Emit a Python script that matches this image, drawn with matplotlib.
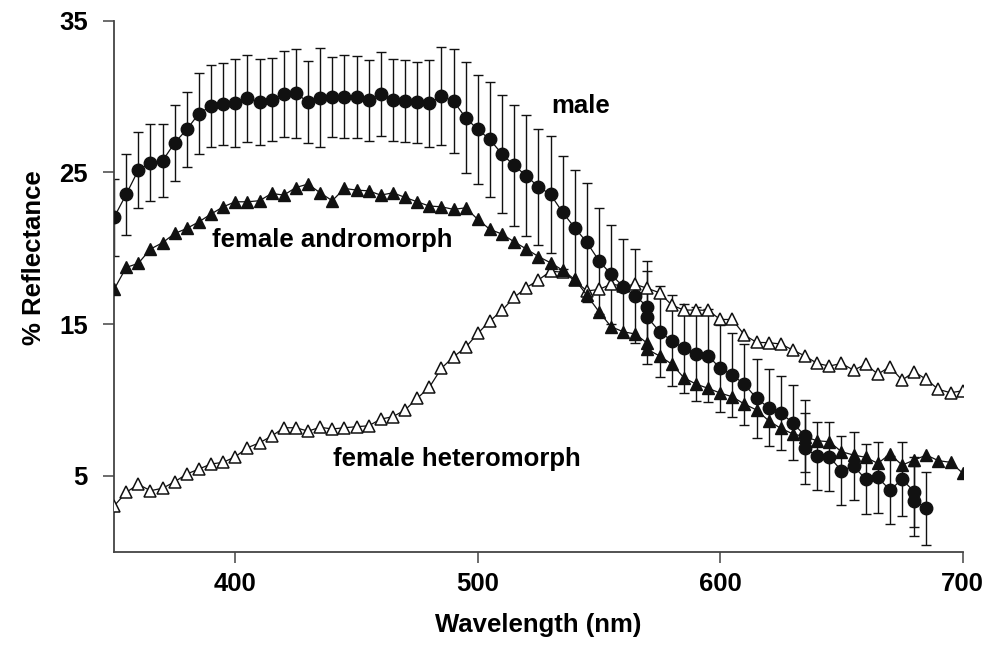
import matplotlib
matplotlib.use("Agg")
import matplotlib.pyplot as plt

plt.rcParams['font.family'] = ['Liberation Sans', 'DejaVu Sans']
plt.rcParams['font.weight'] = 'bold'

# male (mean +/- error), two readings at 570, 635 and 680 nm
male_nm = [350, 355, 360, 365, 370, 375, 380, 385, 390, 395, 400, 405, 410, 415,
           420, 425, 430, 435, 440, 445, 450, 455, 460, 465, 470, 475, 480, 485,
           490, 495, 500, 505, 510, 515, 520, 525, 530, 535, 540, 545, 550, 555,
           560, 565, 570, 570, 575, 580, 585, 590, 595, 600, 605, 610, 615, 620,
           625, 630, 635, 635, 640, 645, 650, 655, 660, 665, 670, 675, 680, 680, 685]
male_refl = [22.03, 23.55, 25.15, 25.63, 25.76, 26.95, 27.83, 28.88, 29.37, 29.5,
             29.59, 29.87, 29.65, 29.8, 30.14, 30.2, 29.65, 29.92, 29.96, 29.98,
             29.96, 29.74, 30.16, 29.76, 29.7, 29.61, 29.55, 30.03, 29.7, 28.6,
             27.83, 27.17, 26.2, 25.46, 24.77, 24.05, 23.55, 22.36, 21.35, 20.38,
             19.17, 18.27, 17.46, 16.84, 16.14, 15.44, 14.49, 13.9, 13.39, 13.0,
             12.91, 12.08, 11.64, 11.02, 10.1, 9.48, 9.11, 8.49, 7.61, 6.8,
             6.29, 6.25, 5.33, 5.64, 4.76, 4.89, 4.05, 4.76, 3.94, 3.35, 2.85]
male_err = [2.55, 2.67, 2.5, 2.55, 2.4, 2.5, 2.5, 2.68, 2.72, 2.72,
            2.9, 2.87, 2.85, 2.74, 2.84, 2.96, 2.7, 3.28, 2.66, 2.74,
            2.72, 2.68, 2.77, 2.7, 2.73, 2.68, 2.86, 3.25, 3.41, 3.67,
            3.6, 3.8, 3.9, 3.98, 3.98, 3.83, 3.85, 3.73, 3.8, 3.93,
            3.5, 3.27, 3.17, 3.12, 3.03, 3.07, 3.0, 3.0, 2.92, 3.1,
            3.05, 2.88, 2.77, 2.68, 2.6, 2.53, 2.43, 2.47, 2.38, 2.35,
            2.24, 2.28, 2.28, 2.23, 2.31, 2.34, 2.24, 2.43, 2.3, 2.3, 2.4]

# female andromorph
andro_nm = [350, 355, 360, 365, 370, 375, 380, 385, 390, 395, 400, 405, 410, 415,
            420, 425, 430, 435, 440, 445, 450, 455, 460, 465, 470, 475, 480, 485,
            490, 495, 500, 505, 510, 515, 520, 525, 530, 535, 540, 545, 550, 555,
            560, 565, 570, 570, 575, 580, 585, 590, 595, 600, 605, 610, 615, 620,
            625, 630, 635, 640, 645, 650, 655, 660, 665, 670, 675, 680, 685, 690,
            695, 700]
andro_refl = [17.28, 18.73, 19.0, 19.94, 20.36, 20.97, 21.3, 21.74, 22.25, 22.73,
              23.06, 23.06, 23.13, 23.61, 23.5, 24.0, 24.23, 23.65, 23.13, 23.94,
              23.83, 23.78, 23.5, 23.65, 23.35, 23.06, 22.78, 22.73, 22.56, 22.66,
              21.9, 21.24, 20.93, 20.42, 19.95, 19.45, 19.04, 18.55, 17.94, 16.9,
              15.81, 14.82, 14.49, 14.34, 13.72, 13.33, 12.89, 12.36, 11.46, 11.04,
              10.76, 10.45, 10.2, 9.72, 9.33, 8.62, 8.12, 7.75, 7.57, 7.3,
              7.24, 6.58, 6.36, 6.21, 5.81, 6.43, 5.7, 6.03, 6.36, 5.99,
              5.88, 5.17]

# female heteromorph
hetero_nm = [350, 355, 360, 365, 370, 375, 380, 385, 390, 395, 400, 405, 410, 415,
             420, 425, 430, 435, 440, 445, 450, 455, 460, 465, 470, 475, 480, 485,
             490, 495, 500, 505, 510, 515, 520, 525, 530, 535, 540, 545, 550, 555,
             560, 565, 570, 575, 580, 585, 590, 595, 600, 605, 610, 615, 620, 625,
             630, 635, 640, 645, 650, 655, 660, 665, 670, 675, 680, 685, 690, 695, 700]
hetero_refl = [3.0, 3.9, 4.43, 4.01, 4.17, 4.6, 5.11, 5.44, 5.77, 5.88,
               6.25, 6.84, 7.17, 7.61, 8.16, 8.16, 7.94, 8.19, 8.08, 8.16,
               8.23, 8.29, 8.73, 8.89, 9.33, 10.1, 10.82, 12.08, 12.84, 13.46,
               14.38, 15.2, 15.9, 16.76, 17.4, 17.9, 18.48, 18.42, 17.87, 17.18,
               17.28, 17.63, 17.5, 17.61, 17.35, 17.06, 16.25, 15.92, 15.92, 15.9,
               15.3, 15.3, 14.27, 13.79, 13.77, 13.68, 13.28, 12.89, 12.4, 12.23,
               12.4, 11.96, 12.34, 11.7, 12.18, 11.3, 11.85, 11.35, 10.69, 10.47, 10.6]

fig = plt.figure(figsize=(9.97, 6.55), dpi=100)
ax = fig.add_axes([0.1144, 0.158, 0.8512, 0.8104])

ax.errorbar(male_nm, male_refl, yerr=male_err, fmt='none', ecolor='#111111',
            elinewidth=1.0, capsize=3.8, capthick=1.0, zorder=2)
ax.plot(hetero_nm, hetero_refl, '-^', color='#111111', mfc='white', mec='#111111',
        ms=9, mew=1.1, lw=0.9, zorder=3)
ax.plot(andro_nm, andro_refl, '-^', color='#111111', mfc='#111111', mec='#111111',
        ms=9, lw=0.9, zorder=4)
ax.plot(male_nm, male_refl, '-o', color='#111111', mfc='#111111', mec='#111111',
        ms=9, lw=0.9, zorder=5)

fs = 18.5
ax.text(530.5, 28.9, 'male', fontsize=fs, fontweight='bold', va='baseline', ha='left')
ax.text(390.2, 20.05, 'female andromorph', fontsize=fs, fontweight='bold',
        va='baseline', ha='left')
ax.text(440.2, 5.66, 'female heteromorph', fontsize=fs, fontweight='bold',
        va='baseline', ha='left')

ax.set_xlim(350, 700)
ax.set_ylim(0, 35)
ax.set_xticks([400, 500, 600, 700])
ax.set_yticks([5, 15, 25, 35])
ax.set_xlabel('Wavelength (nm)', fontsize=fs, fontweight='bold')
ax.set_ylabel('% Reflectance', fontsize=fs, fontweight='bold')
ax.xaxis.set_label_coords(0.5, -0.115)
ax.yaxis.set_label_coords(-0.08, 0.553)
ax.tick_params(direction='out', length=8, width=1.1, color='#444444', labelsize=fs)
ax.tick_params(axis='x', pad=7)
ax.tick_params(axis='y', pad=11)
for side in ['top', 'right']:
    ax.spines[side].set_visible(False)
for side in ['left', 'bottom']:
    ax.spines[side].set_color('#444444')
    ax.spines[side].set_linewidth(1.3)

fig.savefig('out.png', dpi=100)
